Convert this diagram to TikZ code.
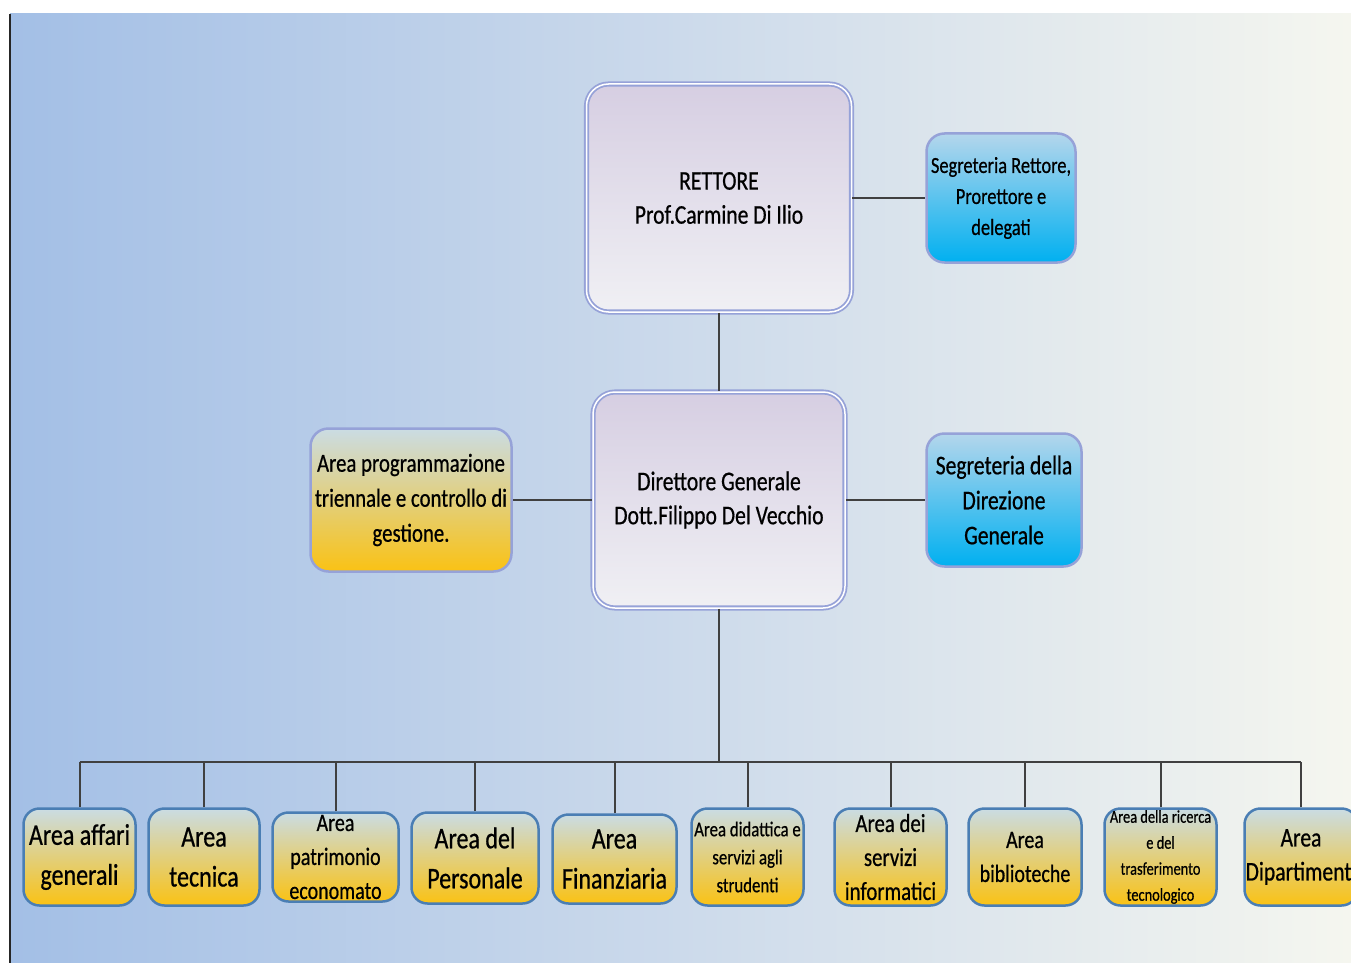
\documentclass[tikz,border=0pt]{standalone}
\usepackage{fontspec}
\setmainfont{Carlito}[FakeStretch=0.8, FakeBold=0.6]
\definecolor{bgleft}{RGB}{163,191,230}
\definecolor{bgmid}{RGB}{204,218,235}
\definecolor{bgright}{RGB}{245,246,239}
\definecolor{lavline}{RGB}{150,162,216}
\definecolor{greytop}{RGB}{214,206,226}
\definecolor{greybot}{RGB}{240,240,244}
\definecolor{cyantop}{RGB}{180,214,236}
\definecolor{cyanbot}{RGB}{0,176,240}
\definecolor{goldtop}{RGB}{202,220,228}
\definecolor{goldbot}{RGB}{250,194,20}
\definecolor{steelline}{RGB}{74,126,180}
\definecolor{linkgrey}{RGB}{64,64,64}
\newcommand{\fsz}[2]{\fontsize{#1}{#2}\selectfont}
\tikzset{
  box/.style={rounded corners=18pt, align=center, inner sep=0pt, line width=2.5pt},
  headbox/.style={box, draw=lavline, double=white, double distance=1.5pt, line width=1.8pt,
    top color=greytop, bottom color=greybot, rounded corners=22pt},
  staffbox/.style={box, draw=lavline, top color=cyantop, bottom color=cyanbot},
  goldbox/.style={box, top color=goldtop, bottom color=goldbot},
  areabox/.style={goldbox, draw=steelline, rounded corners=16pt, minimum height=97pt},
  link/.style={draw=linkgrey, line width=2pt},
}

\begin{document}
\begin{tikzpicture}[x=1pt,y=-1pt]
    \useasboundingbox (0,0) rectangle (1351,963);
    \clip (0,0) rectangle (1351,963);
    \shade[left color=bgleft, right color=bgright, middle color=bgmid] (10,14) rectangle (1351,963);
    \draw[line width=1.5pt, black!85] (10,14) -- (10,963);

    % vertici
    \node[headbox, minimum width=265pt, minimum height=228pt, font=\fsz{27}{34}] (rettore) at (719,198) {RETTORE\\Prof.Carmine Di Ilio};
    \node[staffbox, minimum width=149pt, minimum height=129pt, font=\fsz{23}{31}] (segrett) at (1001,198) {Segreteria Rettore,\\Prorettore e\\delegati};
    \node[headbox, minimum width=252pt, minimum height=216pt, font=\fsz{27}{34}] (dg) at (719,500) {Direttore Generale\\Dott.Filippo Del Vecchio};
    \node[goldbox, draw=lavline, minimum width=201pt, minimum height=143pt, font=\fsz{26}{35}] (progr) at (411,500) {Area programmazione\\triennale e controllo di\\gestione.};
    \node[staffbox, minimum width=155pt, minimum height=133pt, font=\fsz{27}{35}] (segrdg) at (1004,500) {Segreteria della\\Direzione\\Generale};

    \draw[link] (rettore.east) -- (segrett.west);
    \draw[link] (rettore.south) -- (dg.north);
    \draw[link] (progr.east) -- (dg.west);
    \draw[link] (dg.east) -- (segrdg.west);

    % aree
    \node[areabox, minimum width=112pt, font=\fsz{30}{40}] (a1) at (79.5,857) {Area affari\\generali};
    \node[areabox, minimum width=111pt, font=\fsz{30}{40}] (a2) at (204,857) {Area\\tecnica};
    \node[areabox, minimum width=126pt, minimum height=89pt, font=\fsz{25}{34}] (a3) at (335.5,857) {Area\\patrimonio\\economato};
    \node[areabox, minimum width=127pt, minimum height=91pt, font=\fsz{30}{40}] (a4) at (475,858) {Area del\\Personale};
    \node[areabox, minimum width=124pt, minimum height=89pt, font=\fsz{30}{40}] (a5) at (614.5,859) {Area\\Finanziaria};
    \node[areabox, minimum width=112pt, font=\fsz{21}{28}] (a6) at (747.5,857) {Area didattica e\\servizi agli\\strudenti};
    \node[areabox, minimum width=112pt, font=\fsz{26}{34}] (a7) at (890.5,857) {Area dei\\servizi\\informatici};
    \node[areabox, minimum width=113pt, font=\fsz{25}{34}] (a8) at (1025,857) {Area\\biblioteche};
    \node[areabox, minimum width=112pt, font=\fsz{18}{26}] (a9) at (1160.5,857) {Area della ricerca\\e del\\trasferimento\\tecnologico};
    \node[areabox, minimum width=113pt, font=\fsz{27}{34}] (a10) at (1301,857) {Area\\Dipartimenti};

    \coordinate (bus) at (719,762);
    \draw[link] (dg.south) -- (bus);
    \draw[link] (a1.north |- bus) -- (a10.north |- bus);
    \foreach \i in {1,...,10} {
        \draw[link] (a\i.north) -- (a\i.north |- bus);
    }
\end{tikzpicture}
\end{document}
